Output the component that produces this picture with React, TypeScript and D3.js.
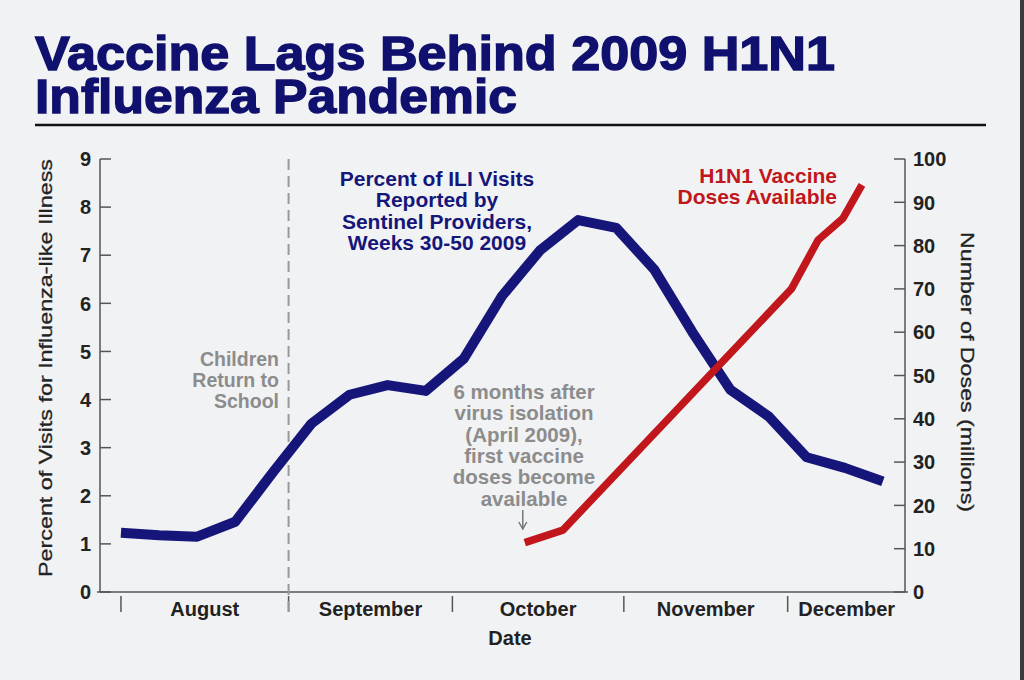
import * as d3 from 'd3';

// ILI visits, weeks 30-50 of 2009 (left axis, percent)
const weeks = [30, 31, 32, 33, 34, 35, 36, 37, 38, 39, 40, 41, 42, 43, 44, 45, 46, 47, 48, 49, 50];
const iliPercent = [1.23, 1.18, 1.15, 1.46, 2.5, 3.5, 4.1, 4.3, 4.18, 4.85, 6.15, 7.1, 7.73, 7.57, 6.7, 5.4, 4.2, 3.65, 2.8, 2.58, 2.3];

// vaccine doses available (right axis, millions), positioned in week units
const doseWeeks = [40.6, 41.6, 47.6, 48.3, 48.95, 49.45];
const dosesMillions = [11.4, 14.3, 70, 81.3, 86.3, 94];

const monthNames = ['August', 'September', 'October', 'November', 'December'];
const monthStarts = [30, 34.4, 38.7, 43.2, 47.5];
const axisEndWeek = 50.6;
const schoolWeek = 34.4;

const leftTicks = [0, 1, 2, 3, 4, 5, 6, 7, 8, 9];
const rightTicks = [0, 10, 20, 30, 40, 50, 60, 70, 80, 90, 100];

const titleLines = ['Vaccine Lags Behind 2009 H1N1', 'Influenza Pandemic'];
const iliLabel = ['Percent of ILI Visits', 'Reported by', 'Sentinel Providers,', 'Weeks 30-50 2009'];
const doseLabel = ['H1N1 Vaccine', 'Doses Available'];
const schoolLabel = ['Children', 'Return to', 'School'];
const firstDoseLabel = ['6 months after', 'virus isolation', '(April 2009),', 'first vaccine', 'doses become', 'available'];

const W = 1024;
const H = 680;
const plot = { left: 100, right: 905, top: 159, bottom: 592 };

const NAVY = '#16167a';
const RED = '#c0161c';
const GRAY = '#8c8c8c';
const FONT = '"Liberation Sans", Arial, Helvetica, sans-serif';

export default function App() {
  const x = d3.scaleLinear().domain([29.45, 50.58]).range([plot.left, plot.right]);
  const yL = d3.scaleLinear().domain([0, 9]).range([plot.bottom, plot.top]);
  const yR = d3.scaleLinear().domain([0, 100]).range([plot.bottom, plot.top]);

  const iliLine = d3.line<number>()
    .x((_, i) => x(weeks[i]))
    .y(d => yL(d));
  const doseLine = d3.line<number>()
    .x((_, i) => x(doseWeeks[i]))
    .y(d => yR(d));

  const monthEdges = [...monthStarts, axisEndWeek];

  return (
    <svg width={W} height={H} style={{ position: 'absolute', left: 0, top: 0 }} fontFamily={FONT}>
      <rect width={W} height={H} fill="#f1f2f4" />
      <rect x={1020} width={4} height={H} fill="#3a3a3a" />

      {/* title, one text block with two lines */}
      <text fontSize={48} fontWeight="bold" fill="#10106e" stroke="#10106e" strokeWidth={1.4}>
        {titleLines.map((t, i) => (
          <tspan key={t} x={35} y={70 + i * 43}
            textLength={i === 0 ? 800 : 482} lengthAdjust="spacingAndGlyphs">{t}</tspan>
        ))}
      </text>
      <line x1={35} x2={986} y1={125} y2={125} stroke="#111" strokeWidth={2.5} />

      {/* axes */}
      <g stroke="#555" strokeWidth={1.5} fill="none">
        <line x1={plot.left} x2={plot.left} y1={plot.top} y2={plot.bottom} />
        <line x1={plot.right} x2={plot.right} y1={plot.top} y2={plot.bottom} />
        <line x1={plot.left - 3} x2={plot.right + 3} y1={plot.bottom} y2={plot.bottom} />
        {leftTicks.map(t => (
          <line key={'l' + t} x1={plot.left} x2={plot.left + 11} y1={yL(t)} y2={yL(t)} />
        ))}
        {rightTicks.map(t => (
          <line key={'r' + t} x1={plot.right - 11} x2={plot.right} y1={yR(t)} y2={yR(t)} />
        ))}
        {monthStarts.map(m => (
          <line key={'m' + m} x1={x(m)} x2={x(m)} y1={plot.bottom + 4} y2={plot.bottom + 20} />
        ))}
      </g>

      {leftTicks.map(t => (
        <text key={'lt' + t} x={plot.left - 9} y={yL(t)} dy="0.36em" textAnchor="end"
          fontSize={20} fontWeight="bold" fill="#222">{t}</text>
      ))}
      {rightTicks.map(t => (
        <text key={'rt' + t} x={plot.right + 8} y={yR(t)} dy="0.36em" textAnchor="start"
          fontSize={20} fontWeight="bold" fill="#222">{t}</text>
      ))}
      {monthNames.map((m, i) => (
        <text key={m} x={(x(monthEdges[i]) + x(monthEdges[i + 1])) / 2} y={616}
          textAnchor="middle" fontSize={20} fontWeight="bold" fill="#222">{m}</text>
      ))}
      <text x={510} y={645} textAnchor="middle" fontSize={20} fontWeight="bold" fill="#222">Date</text>

      <text transform="translate(52,368) rotate(-90)" textAnchor="middle" fontSize={19} fill="#222"
        stroke="#222" strokeWidth={0.3} textLength={418} lengthAdjust="spacingAndGlyphs">
        Percent of Visits for Influenza-like Illness
      </text>
      <text transform="translate(961,372) rotate(90)" textAnchor="middle" fontSize={19} fill="#222"
        stroke="#222" strokeWidth={0.3} textLength={280} lengthAdjust="spacingAndGlyphs">
        Number of Doses (millions)
      </text>

      {/* school return marker */}
      <line x1={x(schoolWeek)} x2={x(schoolWeek)} y1={plot.top} y2={plot.bottom + 20}
        stroke="#999" strokeWidth={2} strokeDasharray="11 6" />
      {schoolLabel.map((t, i) => (
        <text key={t} x={279} y={359 + i * 21} dy="0.36em" textAnchor="end"
          fontSize={19.5} fontWeight="bold" fill={GRAY}>{t}</text>
      ))}

      {/* series */}
      <path d={iliLine(iliPercent) || ''} fill="none" stroke={NAVY} strokeWidth={10}
        strokeLinejoin="round" />
      <path d={doseLine(dosesMillions) || ''} fill="none" stroke={RED} strokeWidth={7.5}
        strokeLinejoin="round" />

      {iliLabel.map((t, i) => (
        <text key={t} x={437} y={178 + i * 21.5} dy="0.36em" textAnchor="middle"
          fontSize={21} fontWeight="bold" fill={NAVY}>{t}</text>
      ))}
      {doseLabel.map((t, i) => (
        <text key={t} x={837} y={175 + i * 21.5} dy="0.36em" textAnchor="end"
          fontSize={21} fontWeight="bold" fill={RED}>{t}</text>
      ))}
      {firstDoseLabel.map((t, i) => (
        <text key={t} x={524} y={391.5 + i * 21.4} dy="0.36em" textAnchor="middle"
          fontSize={20.5} fontWeight="bold" fill={GRAY}>{t}</text>
      ))}
      <g stroke="#777" strokeWidth={1.5} fill="none">
        <line x1={x(doseWeeks[0]) - 2} x2={x(doseWeeks[0]) - 2} y1={510} y2={529} />
        <path d={`M${x(doseWeeks[0]) - 6},${522} L${x(doseWeeks[0]) - 2},${529} L${x(doseWeeks[0]) + 2},${522}`} />
      </g>
    </svg>
  );
}
